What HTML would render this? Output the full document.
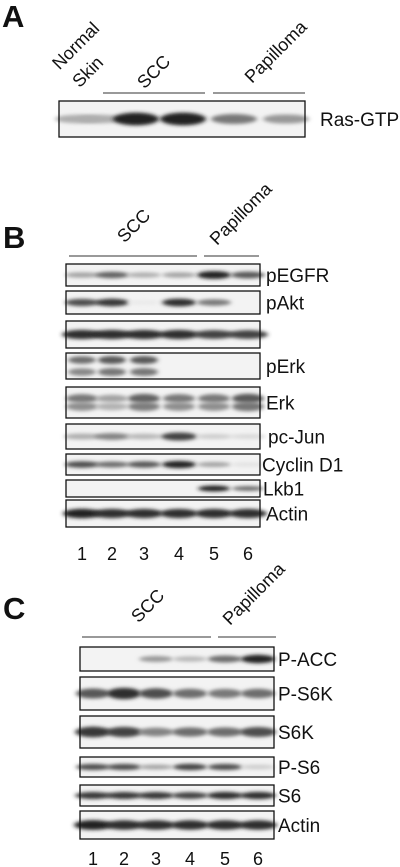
<!DOCTYPE html>
<html><head><meta charset="utf-8"><style>
html,body{margin:0;padding:0;background:#fff;}
svg{display:block;font-family:"Liberation Sans",Arial,sans-serif;}
</style></head><body>
<svg id="fig" width="400" height="867" viewBox="0 0 400 867">
<defs>
<filter id="bl" x="-50%" y="-100%" width="200%" height="300%"><feGaussianBlur stdDeviation="2.4 1.8"/></filter>
</defs>
<g id="root"></g>
</svg>
<script>
const NS='http://www.w3.org/2000/svg';
const root=document.getElementById('root');
// Lane centers (panel B & C) and intensities per blot
const lanesB=[82,112,144,179,214,248];
const lanesC=[93,124,156,190,225,258];
const rasA=[0.3,0.3,0.95,0.95,0.55,0.4];
const pEGFR=[0.35,0.65,0.3,0.35,0.95,0.7];
const pAkt=[0.75,0.85,0.02,0.9,0.55,0.0];
const totAkt=[0.9,0.9,0.9,0.9,0.8,0.8];
const pErk=[0.6,0.7,0.7,0.0,0.0,0.0];
const erk=[0.55,0.35,0.65,0.55,0.55,0.7];
const pcJun=[0.3,0.5,0.25,0.8,0.15,0.1];
const cyclinD1=[0.75,0.6,0.7,0.95,0.35,0.05];
const lkb1=[0,0,0,0,0.95,0.6];
const actinB=[0.95,0.9,0.9,0.9,0.9,0.9];
const pACC=[0,0,0.4,0.25,0.6,0.95];
const pS6K=[0.7,0.9,0.75,0.6,0.55,0.6];
const s6k=[0.85,0.8,0.5,0.6,0.6,0.75];
const pS6=[0.75,0.75,0.35,0.8,0.75,0.15];
const s6=[0.85,0.85,0.85,0.8,0.9,0.9];
const actinC=[0.95,0.9,0.9,0.9,0.9,0.9];
const laneNums=['1','2','3','4','5','6'];

function el(tag,attrs,parent){const e=document.createElementNS(NS,tag);for(const k in attrs)e.setAttribute(k,attrs[k]);(parent||root).appendChild(e);return e;}
function txt(x,y,s,size,opts){const t=el('text',Object.assign({x:x,y:y,'font-size':size,fill:'#111'},opts||{}));t.textContent=s;return t;}

function blot(name,x,y,w,h,lanes,vals,label,lx,lw,bandOffsets){
  const g=el('g',{});
  
  
  el('rect',{x:x,y:y,width:w,height:h,fill:'#f3f3f3'},g);
  const offs=bandOffsets||[0];
  vals.forEach((v,i)=>{
    if(v<=0)return;
    offs.forEach((o,j)=>{
      const c=Math.round(238-215*v*(j===0?1:0.8));
      const b=el('ellipse',{cx:lanes[i],cy:y+h/2+o,rx:lw/2,ry:Math.max(2.4,h*0.15*(0.6+v*0.6)),fill:'rgb('+c+','+c+','+c+')',filter:'url(#bl)'},g);
      
      
    });
  });
  el('rect',{x:x,y:y,width:w,height:h,fill:'none',stroke:'#111','stroke-width':1.3},g);
  if(label){const t=txt(lx,y+h/2+7,label,19,{});}
}
function line(name,x1,x2,y){const l=el('line',{x1:x1,x2:x2,y1:y,y2:y,stroke:'#333','stroke-width':1});}
function rot(name,cx,cy,s,size){const t=txt(cx,cy,s,size,{'text-anchor':'middle',transform:'rotate(-45 '+cx+' '+cy+')'});}
function panel(name,x,y,s){const t=txt(x,y,s,31,{'font-weight':'bold'});}

// Panel A
panel('panel-a-letter',2,27,'A');
rot('normal-label',80,50,'Normal',18);
rot('skin-label',92,76,'Skin',18);
rot('scc-label-a',158,76,'SCC',18);
rot('papilloma-label-a',280,56,'Papilloma',18);
line('scc-line-a',103,205,93);
line('papilloma-line-a',213,305,93);
const lanesA=[78,100,136,183,234,286];
blot('ras-gtp',59,101,246,36,lanesA,rasA,'Ras-GTP',320,46,[0]);

// Panel B
panel('panel-b-letter',3,248,'B');
rot('scc-label-b',138,230,'SCC',18);
rot('papilloma-label-b',245,218,'Papilloma',18);
line('scc-line-b',69,197,256);
line('papilloma-line-b',204,259,256);
blot('pegfr',66,264,194,22,lanesB,pEGFR,'pEGFR',266,34);
blot('pakt',66,291,194,23,lanesB,pAkt,'pAkt',266,34);
blot('akt',66,321,194,27,lanesB,totAkt,'',0,40);
blot('perk',66,353,194,26,lanesB,pErk,'pErk',266,28,[-6,6]);
blot('erk',66,387,194,31,lanesB,erk,'Erk',266,32,[-4,4]);
blot('pc-jun',66,424,194,25,lanesB,pcJun,'pc-Jun',268,36);
blot('cyclin-d1',66,454,194,21,lanesB,cyclinD1,'Cyclin D1',262,34);
blot('lkb1',66,480,194,17,lanesB,lkb1,'Lkb1',263,32);
blot('actin-b',66,500,194,27,lanesB,actinB,'Actin',266,38);
laneNums.forEach((n,i)=>{const t=txt(lanesB[i],560,n,18,{'text-anchor':'middle'});});

// Panel C
panel('panel-c-letter',3,619,'C');
rot('scc-label-c',152,610,'SCC',18);
rot('papilloma-label-c',258,598,'Papilloma',18);
line('scc-line-c',82,211,637);
line('papilloma-line-c',218,276,637);
blot('p-acc',80,647,194,24,lanesC,pACC,'P-ACC',278,34);
blot('p-s6k',80,677,194,33,lanesC,pS6K,'P-S6K',278,34);
blot('s6k',80,716,194,32,lanesC,s6k,'S6K',278,36);
blot('p-s6',80,757,194,20,lanesC,pS6,'P-S6',278,34);
blot('s6',80,785,194,21,lanesC,s6,'S6',278,36);
blot('actin-c',80,811,194,28,lanesC,actinC,'Actin',278,38);
laneNums.forEach((n,i)=>{const t=txt(lanesC[i],865,n,18,{'text-anchor':'middle'});});
</script>
</body></html>
